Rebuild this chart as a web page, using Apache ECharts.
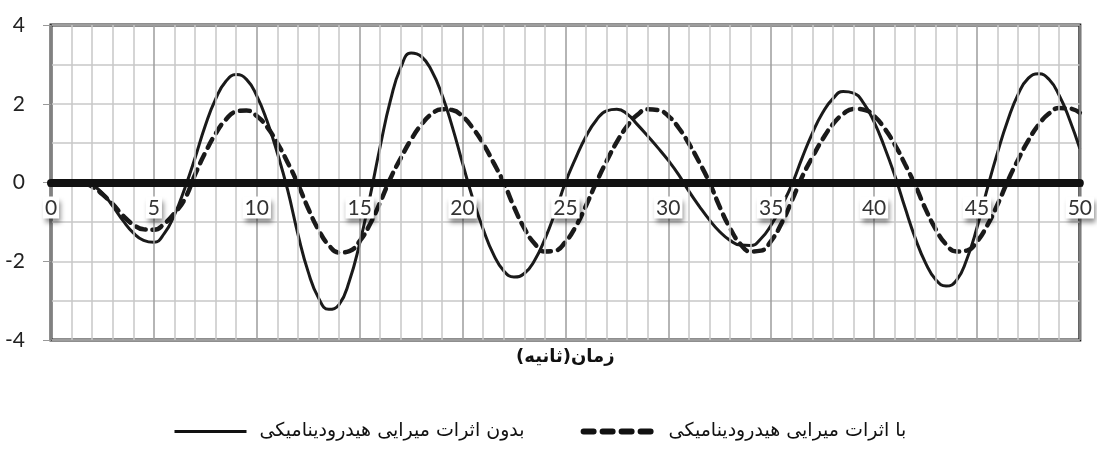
<!DOCTYPE html>
<html>
<head>
<meta charset="utf-8">
<script src="https://cdn.jsdelivr.net/npm/echarts@6/dist/echarts.min.js"></script>
<style>
  html, body { margin: 0; padding: 0; background: #fff; }
  #chart { width: 1097px; height: 450px; }
</style>
</head>
<body>
<div id="chart"></div>
<script>
// زمان (ثانیه)
var times = [
  0, 0.5, 1, 1.5, 2, 2.5, 3, 3.5, 4, 4.5, 5, 5.5, 6, 6.5, 7, 7.5, 8, 8.5, 9, 9.5,
  10, 10.5, 11, 11.5, 12, 12.5, 13, 13.5, 14, 14.5, 15, 15.5, 16, 16.5, 17, 17.5, 18, 18.5, 19, 19.5,
  20, 20.5, 21, 21.5, 22, 22.5, 23, 23.5, 24, 24.5, 25, 25.5, 26, 26.5, 27, 27.5, 28, 28.5, 29, 29.5,
  30, 30.5, 31, 31.5, 32, 32.5, 33, 33.5, 34, 34.5, 35, 35.5, 36, 36.5, 37, 37.5, 38, 38.5, 39, 39.5,
  40, 40.5, 41, 41.5, 42, 42.5, 43, 43.5, 44, 44.5, 45, 45.5, 46, 46.5, 47, 47.5, 48, 48.5, 49, 49.5,
  50
];
// بدون اثرات میرایی هیدرودینامیکی (خط پر)
var withoutDamping = [
  0, 0.03, 0.05, 0.03, -0.06, -0.27, -0.6, -0.97, -1.28, -1.47, -1.52, -1.3, -0.82, -0.15, 0.62, 1.45, 2.12, 2.57, 2.74, 2.62,
  2.2, 1.56, 0.75, -0.19, -1.31, -2.27, -2.93, -3.22, -3.1, -2.5, -1.55, -0.37, 0.92, 2.09, 2.92, 3.29, 3.2, 2.84, 2.23, 1.42,
  0.49, -0.41, -1.18, -1.82, -2.24, -2.4, -2.31, -1.98, -1.44, -0.76, 0, 0.62, 1.17, 1.58, 1.82, 1.86, 1.74, 1.47, 1.18, 0.88,
  0.56, 0.2, -0.22, -0.6, -0.95, -1.25, -1.47, -1.59, -1.6, -1.43, -1.08, -0.6, -0.06, 0.62, 1.25, 1.77, 2.13, 2.31, 2.27, 2.01,
  1.54, 0.91, 0.19, -0.63, -1.41, -2.04, -2.47, -2.63, -2.49, -1.96, -1.15, -0.16, 0.76, 1.58, 2.24, 2.65, 2.76, 2.62, 2.21, 1.6,
  0.86
];
// با اثرات میرایی هیدرودینامیکی (خط چین)
var withDamping = [
  0, 0.02, 0.03, 0, -0.1, -0.3, -0.55, -0.84, -1.07, -1.19, -1.2, -1.05, -0.78, -0.42, 0.2, 0.76, 1.24, 1.6, 1.8, 1.83,
  1.69, 1.41, 1.0, 0.51, -0.04, -0.66, -1.2, -1.59, -1.78, -1.74, -1.49, -1.06, -0.5, 0.11, 0.62, 1.09, 1.47, 1.74, 1.86, 1.84,
  1.68, 1.38, 0.99, 0.51, 0, -0.62, -1.16, -1.55, -1.75, -1.73, -1.51, -1.12, -0.59, 0, 0.54, 1.03, 1.43, 1.72, 1.86, 1.84,
  1.69, 1.39, 0.99, 0.52, 0, -0.62, -1.16, -1.56, -1.75, -1.73, -1.48, -1.04, -0.47, 0.14, 0.64, 1.1, 1.48, 1.74, 1.87, 1.85,
  1.69, 1.38, 0.97, 0.47, -0.07, -0.67, -1.19, -1.57, -1.75, -1.73, -1.5, -1.09, -0.56, 0.04, 0.58, 1.07, 1.47, 1.75, 1.89, 1.88,
  1.77
];
var seriesNames = ['بدون اثرات میرایی هیدرودینامیکی', 'با اثرات میرایی هیدرودینامیکی'];
var axisTitle = 'زمان(ثانیه)';

function pairs(ys) {
  return ys.map(function (v, i) { return [times[i], v]; });
}

var myChart = echarts.init(document.getElementById('chart'));
var option = {
  animation: false,
  backgroundColor: '#fff',
  grid: {
    left: 51, right: 14, top: 25, bottom: 110,
    show: true, borderColor: '#1e1e1e', borderWidth: 3
  },
  legend: {
    top: 417,
    left: 168,
    itemWidth: 72,
    itemHeight: 14,
    itemGap: 56,
    itemStyle: { opacity: 0 },
    textStyle: {
      fontFamily: '"DejaVu Serif", "DejaVu Sans"',
      fontSize: 19,
      color: '#111',
      padding: [0, 0, 0, 8]
    },
    data: [
      { name: seriesNames[0], lineStyle: { color: '#111', width: 3, type: 'solid' } },
      { name: seriesNames[1], lineStyle: { color: '#111', width: 6, type: [10, 9], cap: 'round' } }
    ]
  },
  graphic: [{
    type: 'text',
    left: 516,
    top: 348,
    style: {
      text: axisTitle,
      font: 'bold 18px "DejaVu Sans"',
      fill: '#111'
    }
  }],
  xAxis: {
    type: 'value',
    min: 0, max: 50, interval: 5,
    offset: -157.5,
    axisLine: { onZero: false, lineStyle: { color: '#111', width: 8 } },
    axisTick: { show: true, length: 4, lineStyle: { color: '#111', width: 6 } },
    minorTick: { show: false, splitNumber: 5 },
    axisLabel: {
      margin: 14,
      fontFamily: 'Lato, "Open Sans", sans-serif',
      fontSize: 21,
      color: '#333',
      backgroundColor: '#fff',
      padding: [1, 2, 0, 2],
      shadowColor: 'rgba(0,0,0,0.45)',
      shadowBlur: 5,
      shadowOffsetX: 2,
      shadowOffsetY: 4
    },
    splitLine: { show: true, lineStyle: { color: '#9c9c9c', width: 1.5 } },
    minorSplitLine: { show: true, lineStyle: { color: '#c8c8c8', width: 1.5 } },
    z: 5
  },
  yAxis: {
    type: 'value',
    min: -4, max: 4, interval: 2,
    axisLine: { show: true, onZero: false, lineStyle: { color: '#333', width: 2 } },
    axisTick: { show: true, length: 8, lineStyle: { color: '#999' } },
    minorTick: { show: false, splitNumber: 2 },
    axisLabel: {
      margin: 26,
      fontFamily: 'Lato, "Open Sans", sans-serif',
      fontSize: 21,
      color: '#222'
    },
    splitLine: { show: true, lineStyle: { color: '#c8c8c8', width: 1.5 } },
    minorSplitLine: { show: true, lineStyle: { color: '#c8c8c8', width: 1.5 } }
  },
  series: [
    {
      name: seriesNames[0],
      type: 'line',
      data: pairs(withoutDamping),
      smooth: 0.5,
      symbol: 'none',
      z: 3,
      itemStyle: { color: '#1a1a1a' },
      lineStyle: { color: '#1a1a1a', width: 3 }
    },
    {
      name: seriesNames[1],
      type: 'line',
      data: pairs(withDamping),
      smooth: 0.5,
      symbol: 'none',
      z: 4,
      itemStyle: { color: '#1a1a1a' },
      lineStyle: { color: '#1a1a1a', width: 4.5, type: [10, 7], cap: 'round' }
    }
  ]
};
myChart.setOption(option);
window.addEventListener('resize', function () {
  myChart.resize();
});
</script>
</body>
</html>
